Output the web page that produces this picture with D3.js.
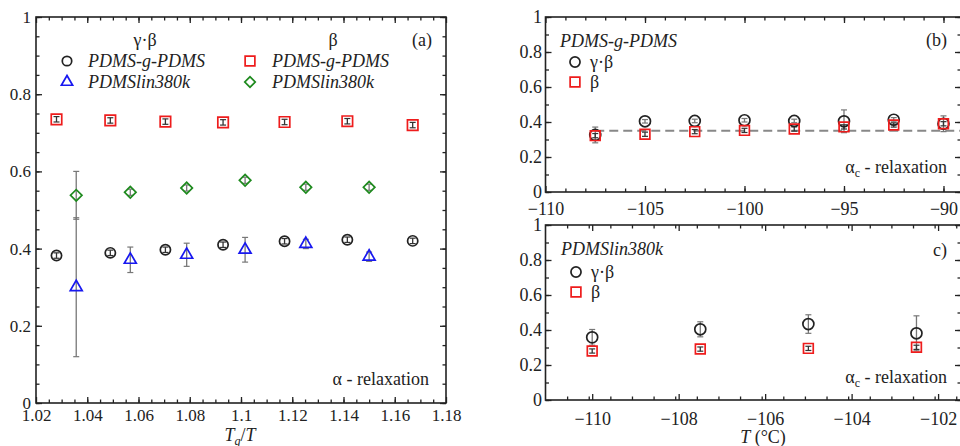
<!DOCTYPE html>
<html>
<head>
<meta charset="utf-8">
<script src="https://cdn.jsdelivr.net/npm/d3@7"></script>
<style>
  body { margin: 0; background: #fff; }
  svg text { font-family: "Liberation Serif", "DejaVu Serif", serif; fill: #222; }
</style>
</head>
<body>
<script>
// ---- data ----
// panel (a): Tg/T
var aXg = [1.028, 1.049, 1.0705, 1.093, 1.117, 1.1415, 1.167];      // PDMS-g-PDMS
var aGBg = [0.382, 0.389, 0.397, 0.410, 0.419, 0.423, 0.420];
var aBg = [0.735, 0.732, 0.729, 0.727, 0.728, 0.730, 0.720];
var aXl = [1.0357, 1.0568, 1.0788, 1.1016, 1.1253, 1.150];           // PDMSlin380k
var aGBl = [0.300, 0.371, 0.384, 0.397, 0.412, 0.379];
var aGBlErr = [0.18, 0.033, 0.030, 0.032, 0.012, 0.012];
var aBl = [0.538, 0.546, 0.557, 0.577, 0.559, 0.559];
var aBlErr = [0.062, 0.008, 0.008, 0.008, 0.008, 0.008];

// panel (b): T (°C), PDMS-g-PDMS
var bT = [-107.5, -105, -102.5, -100, -97.5, -95, -92.5, -90];
var bGB = [0.326, 0.404, 0.406, 0.410, 0.406, 0.404, 0.413, 0.390];
var bGBErr = [0.045, 0.01, 0.01, 0.01, 0.01, 0.065, 0.012, 0.045];
var bB = [0.322, 0.330, 0.345, 0.352, 0.360, 0.372, 0.383, 0.390];
var bMean = 0.35;

// panel (c): T (°C), PDMSlin380k
var cT = [-110, -107.5, -105, -102.5];
var cGB = [0.358, 0.404, 0.434, 0.381];
var cGBErr = [0.045, 0.043, 0.053, 0.10];
var cB = [0.280, 0.291, 0.295, 0.301];

var yTicks = [0, 0.2, 0.4, 0.6, 0.8, 1];

var W = 960, H = 446;
var FONT = "'Liberation Serif', 'DejaVu Serif', serif";
var svg = d3.select("body").append("svg")
    .attr("width", W)
    .attr("height", H)
    .style("font-family", FONT);

var RED = "#ee1c1c", BLUE = "#1818f0", GREEN = "#1e8a1e", ERR = "#777";

function yfmt(d) { return d === 0 ? "0" : d === 1 ? "1" : d3.format(".1f")(d); }

// draws frame + mirrored inward ticks, returns scales
function panel(o) {
    var x = d3.scaleLinear().domain(o.xdom).range([o.left, o.right]);
    var y = d3.scaleLinear().domain([0, 1]).range([o.bottom, o.top]);
    var g = svg.append("g");

    function ax(gen, tr, vals, size, fmt, pad, fs) {
        var a = g.append("g").attr("transform", tr)
            .call(gen.tickValues(vals).tickSize(size).tickPadding(pad).tickFormat(fmt));
        a.attr("font-family", null);
        a.select(".domain").remove();
        a.selectAll("line").attr("stroke", "#222").attr("stroke-width", 1.3);
        a.selectAll("text").attr("font-size", fs).attr("fill", "#222")
            .style("font-family", FONT);
        return a;
    }
    var blank = function() { return ""; };
    var minorX = d3.range(o.xdom[0], o.xdom[1] + 1e-9, o.xminor)
        .map(function(v) { return Math.round(v * 1000) / 1000; })
        .filter(function(v) { return v > o.xdom[0] && v < o.xdom[1]; });
    var minorY = d3.range(0, 1.0001, o.yminor);
    var xmaj = o.xticks.filter(function(v) { return v >= o.xdom[0] && v <= o.xdom[1]; });

    ax(d3.axisBottom(x), "translate(0," + o.bottom + ")", xmaj, -6, o.xfmt, o.xpad, o.fs);
    ax(d3.axisBottom(x), "translate(0," + o.bottom + ")", minorX, -3.5, blank, 0, o.fs);
    ax(d3.axisTop(x), "translate(0," + o.top + ")", xmaj, -6, blank, 0, o.fs);
    ax(d3.axisTop(x), "translate(0," + o.top + ")", minorX, -3.5, blank, 0, o.fs);
    ax(d3.axisLeft(y), "translate(" + o.left + ",0)", yTicks, -6, yfmt, o.ypad, o.fs);
    ax(d3.axisLeft(y), "translate(" + o.left + ",0)", minorY, -3.5, blank, 0, o.fs);
    ax(d3.axisRight(y), "translate(" + o.right + ",0)", yTicks, -6, blank, 0, o.fs);
    ax(d3.axisRight(y), "translate(" + o.right + ",0)", minorY, -3.5, blank, 0, o.fs);

    g.append("rect")
        .attr("x", o.left).attr("y", o.top)
        .attr("width", o.right - o.left).attr("height", o.bottom - o.top)
        .attr("fill", "none").attr("stroke", "#222").attr("stroke-width", 1.6);
    return { x: x, y: y, g: g };
}

function errBars(p, xs, ys, es, color) {
    xs.forEach(function(xv, i) {
        var cx = p.x(xv), y1 = p.y(ys[i] - es[i]), y2 = p.y(ys[i] + es[i]);
        p.g.append("line").attr("x1", cx).attr("x2", cx).attr("y1", y1).attr("y2", y2)
            .attr("stroke", color).attr("stroke-width", 1.3);
        [y1, y2].forEach(function(yy) {
            p.g.append("line").attr("x1", cx - 3).attr("x2", cx + 3).attr("y1", yy).attr("y2", yy)
                .attr("stroke", color).attr("stroke-width", 1.2);
        });
    });
}

function marks(p, xs, ys, type, size, color, rot) {
    p.g.selectAll(null).data(xs).enter().append("path")
        .attr("d", d3.symbol().type(type).size(size))
        .attr("transform", function(d, i) {
            return "translate(" + p.x(d) + "," + p.y(ys[i]) + ")" + (rot ? " rotate(45)" : "");
        })
        .attr("fill", "none").attr("stroke", color).attr("stroke-width", 1.7);
}

function small(n, v) { return d3.range(n).map(function() { return v; }); }

// ---------- panel (a) ----------
var pa = panel({
    xdom: [1.02, 1.18], left: 36, right: 446, top: 17, bottom: 403,
    xticks: d3.range(1.02, 1.1801, 0.02).map(function(v) { return Math.round(v * 100) / 100; }),
    xminor: 0.005, yminor: 0.05,
    xfmt: function(d) { return String(+d.toFixed(2)); }, xpad: 6, ypad: 5, fs: 17
});
errBars(pa, aXg, aGBg, small(aXg.length, 0.007), "#333");
errBars(pa, aXg, aBg, small(aXg.length, 0.007), "#333");
errBars(pa, aXl, aGBl, aGBlErr, ERR);
errBars(pa, aXl, aBl, aBlErr, ERR);
marks(pa, aXg, aGBg, d3.symbolCircle, 82, "#222");
marks(pa, aXg, aBg, d3.symbolSquare, 110, RED);
marks(pa, aXl, aGBl, d3.symbolTriangle, 62, BLUE);
marks(pa, aXl, aBl, d3.symbolSquare, 66, GREEN, true);

// legend (a)
function sym(x, y, type, size, color, rot) {
    svg.append("path").attr("d", d3.symbol().type(type).size(size))
        .attr("transform", "translate(" + x + "," + y + ")" + (rot ? " rotate(45)" : ""))
        .attr("fill", "none").attr("stroke", color).attr("stroke-width", 1.7);
}
function txt(x, y, s, fs, anchor, italic) {
    return svg.append("text").attr("x", x).attr("y", y).attr("font-size", fs)
        .attr("text-anchor", anchor || "start")
        .attr("font-style", italic ? "italic" : "normal").text(s);
}
txt(145, 46, "γ·β", 18, "middle");
txt(333, 46, "β", 18, "middle");
txt(432, 46, "(a)", 18, "end");
sym(67, 61, d3.symbolCircle, 70, "#222");
txt(88, 67, "PDMS-g-PDMS", 18, "start", true);
sym(67, 82, d3.symbolTriangle, 55, BLUE);
txt(88, 88, "PDMSlin380k", 18, "start", true);
sym(250, 61, d3.symbolSquare, 95, RED);
txt(272, 67, "PDMS-g-PDMS", 18, "start", true);
sym(250, 82, d3.symbolSquare, 55, GREEN, true);
txt(272, 88, "PDMSlin380k", 18, "start", true);
txt(429, 385, "α - relaxation", 18, "end");

var tl = svg.append("text").attr("x", 240).attr("y", 441).attr("font-size", 18)
    .attr("text-anchor", "middle");
tl.append("tspan").attr("font-style", "italic").text("T");
tl.append("tspan").attr("font-style", "italic").attr("font-size", 12).attr("dy", 4).text("g");
tl.append("tspan").attr("dy", -4).text("/");
tl.append("tspan").attr("font-style", "italic").text("T");

// ---------- panel (b) ----------
var pb = panel({
    xdom: [-110, -89.12], left: 545.5, right: 961, top: 17, bottom: 192,
    xticks: [-110, -105, -100, -95, -90], xminor: 1, yminor: 0.1,
    xfmt: d3.format("d"), xpad: 10, ypad: 3.5, fs: 18
});
pb.g.append("line")
    .attr("x1", pb.x(bT[0])).attr("x2", pb.x(-89.12))
    .attr("y1", pb.y(bMean)).attr("y2", pb.y(bMean))
    .attr("stroke", "#888").attr("stroke-width", 2).attr("stroke-dasharray", "9,5");
errBars(pb, bT, bGB, bGBErr, ERR);
errBars(pb, bT, bB, small(bT.length, 0.012), "#333");
marks(pb, bT, bGB, d3.symbolCircle, 95, "#222");
marks(pb, bT, bB, d3.symbolSquare, 95, RED);

txt(560, 47, "PDMS-g-PDMS", 18, "start", true);
sym(575, 62, d3.symbolCircle, 80, "#222");
txt(590, 68, "γ·β", 18);
sym(575, 82, d3.symbolSquare, 95, RED);
txt(590, 88, "β", 18);
txt(947, 46, "(b)", 18, "end");
var rb = txt(947, 173, "", 18, "end");
rb.append("tspan").text("α");
rb.append("tspan").attr("font-size", 12).attr("dy", 4).text("c");
rb.append("tspan").attr("dy", -4).text(" - relaxation");

// ---------- panel (c) ----------
var pc = panel({
    xdom: [-111.08, -101.47], left: 545.5, right: 961, top: 225, bottom: 400,
    xticks: [-110, -108, -106, -104, -102], xminor: 0.5, yminor: 0.1,
    xfmt: d3.format("d"), xpad: 12, ypad: 3.5, fs: 18
});
errBars(pc, cT, cGB, cGBErr, ERR);
errBars(pc, cT, cB, small(cT.length, 0.012), "#333");
marks(pc, cT, cGB, d3.symbolCircle, 95, "#222");
marks(pc, cT, cB, d3.symbolSquare, 95, RED);

txt(561, 255, "PDMSlin380k", 18, "start", true);
sym(576, 272, d3.symbolCircle, 80, "#222");
txt(591, 278, "γ·β", 18);
sym(576, 292, d3.symbolSquare, 95, RED);
txt(591, 298, "β", 18);
txt(947, 256, "c)", 18, "end");
var rc = txt(947, 383, "", 18, "end");
rc.append("tspan").text("α");
rc.append("tspan").attr("font-size", 12).attr("dy", 4).text("c");
rc.append("tspan").attr("dy", -4).text(" - relaxation");

var tc = svg.append("text").attr("x", 763).attr("y", 443).attr("font-size", 18)
    .attr("text-anchor", "middle");
tc.append("tspan").attr("font-style", "italic").text("T");
tc.append("tspan").text(" (°C)");
</script>
</body>
</html>
